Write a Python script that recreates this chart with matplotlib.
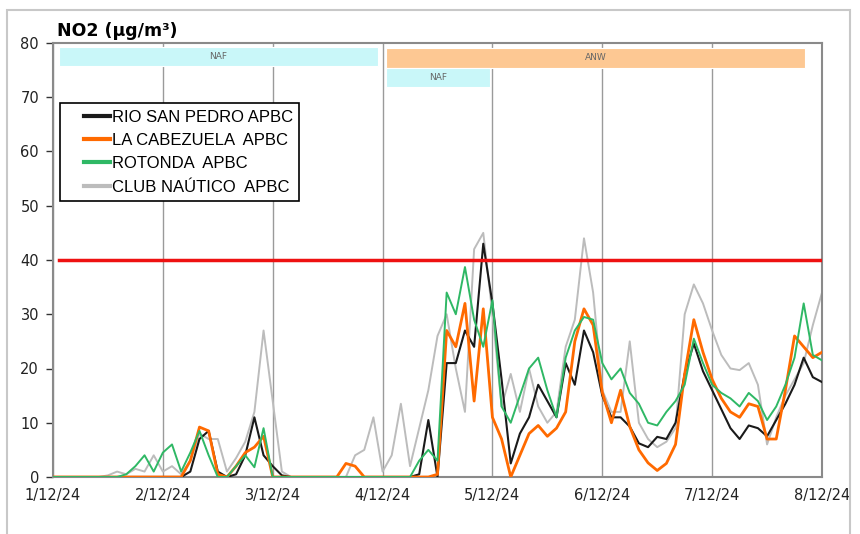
import numpy as np
import matplotlib
matplotlib.use('Agg')
import matplotlib.pyplot as plt
from matplotlib.patches import Rectangle

# valores cada 2 horas, 1/12/24 00:00 -> 8/12/24 00:00
hours = np.arange(0, 169, 2)

rio_san_pedro = [0, 0, 0, 0, 0, 0, 0, 0, 0, 0, 0, 0,
                 0, 0, 0, 1, 7, 8.5, 1, 0, 0.5, 4, 11, 4,
                 2, 0.3, 0, 0, 0, 0, 0, 0, 0, 0, 0, 0,
                 0, 0, 0, 0, 0.5, 10.5, 0, 21, 21, 27, 24, 43,
                 32, 18, 2.5, 8, 11, 17, 14, 11, 21, 17, 27, 23,
                 15, 11, 11, 9.3, 6.2, 5.5, 7.4, 7, 10, 19, 24.6, 19.5,
                 16, 12.5, 9, 7, 9.5, 9, 7.5, 10.5, 13.5, 17, 22, 18.4,
                 17.5]
la_cabezuela = [0, 0, 0, 0, 0, 0, 0, 0, 0, 0, 0, 0,
                0, 0, 0, 3, 9.2, 8.5, 0.5, 0, 2, 4.5, 5.5, 7.5,
                0, 0, 0, 0, 0, 0, 0, 0, 2.5, 2, 0, 0,
                0, 0, 0, 0, 0, 0, 0.5, 27, 24, 32, 14, 31,
                11, 7, 0, 4, 8, 9.5, 7.5, 9, 12, 25, 31, 28,
                15.6, 10, 16, 9.3, 5, 2.6, 1.2, 2.5, 6, 19, 29, 23,
                18, 14.5, 12, 11, 13.5, 13, 7, 7, 16, 26, 24, 22,
                23]
rotonda = [0, 0, 0, 0, 0, 0, 0, 0, 0.5, 2, 4, 1,
           4.5, 6, 1, 4.5, 8.5, 4, 0, 0, 2, 4, 1.8, 9,
           0, 0, 0, 0, 0, 0, 0, 0, 0, 0, 0, 0,
           0, 0, 0, 0, 3, 5, 3, 34, 30, 38.7, 29, 24,
           32.6, 13, 10, 15, 20, 22, 16, 11, 22, 27, 29.5, 29,
           21, 18, 20, 15.5, 13.5, 10, 9.5, 12, 14, 17, 25.5, 21,
           17, 15.5, 14.5, 13, 15.5, 14, 10.5, 13, 17, 22, 32, 22.5,
           21.5]
club_nautico = [0, 0, 0, 0, 0, 0, 0.3, 1, 0.5, 1.5, 1, 4,
                1, 2, 0.5, 3, 8, 7, 7, 1, 3.5, 6.5, 12, 27,
                14, 1, 0, 0, 0, 0, 0, 0, 0, 4, 5, 11,
                1, 4, 13.5, 2, 9, 16, 26, 30, 20, 12, 42, 45,
                30, 13, 19, 12, 20, 13, 10, 12, 24, 29, 44, 34,
                16, 12, 12, 25, 10, 7, 5.5, 6.5, 9, 30, 35.5, 32,
                27, 22.5, 20, 19.7, 21, 17, 6, 11, 15, 18, 21, 28,
                34]

series_names = ['RIO SAN PEDRO APBC', 'LA CABEZUELA  APBC', 'ROTONDA  APBC', 'CLUB NAÚTICO  APBC']
series_colors = ['#1a1a1a', '#ff6a00', '#2fb865', '#bcbcbc']
series_widths = [1.5, 2.0, 1.4, 1.4]

limit_value = 40
day_labels = ['1/12/24', '2/12/24', '3/12/24', '4/12/24', '5/12/24', '6/12/24', '7/12/24', '8/12/24']

# episodios (horas)
band_labels = ['NAF', 'ANW', 'NAF']
band_start = [1.3, 72.7, 72.7]
band_end = [70.9, 164.3, 95.4]
band_colors = ['#c9f7f9', '#fdc893', '#c9f7f9']

fig = plt.figure(figsize=(8.6, 5.34), dpi=100)
fig.patches.append(Rectangle((7 / 860, -0.01), 843 / 860, 1 - 10 / 534 + 0.01,
                             transform=fig.transFigure, fill=False,
                             ec='#c8c8c8', lw=1.5))
ax = fig.add_axes([53 / 860, 57 / 534, 769 / 860, 434 / 534])

for name, vals, c, lw in zip(series_names,
                             [rio_san_pedro, la_cabezuela, rotonda, club_nautico],
                             series_colors, series_widths):
    ax.plot(hours, vals, color=c, lw=lw, label=name, zorder=3)

# gris por detras de las demas
ax.lines[3].set_zorder(2.2)

ax.plot([1.4, 168], [limit_value, limit_value], color='#ee1111', lw=2.5, zorder=4)

band_rows = [(75.8, 79.3), (75.4, 79.1), (71.9, 75.4)]
for lab, s, e, col, (y0, y1) in zip(band_labels, band_start, band_end, band_colors, band_rows):
    ax.add_patch(Rectangle((s, y0), e - s, y1 - y0, fc=col, ec='white', lw=0.8, zorder=2))
    ax.text((s + e) / 2, (y0 + y1) / 2, lab, ha='center', va='center',
            fontsize=6.5, color='#666666', zorder=5)

ax.set_xlim(0, 168)
ax.set_ylim(0, 80)
ax.set_xticks(np.arange(0, 169, 24))
ax.set_xticklabels(day_labels)
ax.set_yticks(np.arange(0, 81, 10))
ax.tick_params(axis='both', labelsize=10.5, colors='#333333', length=5, width=1)
ax.tick_params(axis='y', pad=5)
ax.tick_params(axis='x', length=0, pad=8)
for lbl in ax.get_xticklabels() + ax.get_yticklabels():
    lbl.set_color('#222222')
ax.xaxis.grid(True, color='#9a9a9a', lw=1)
ax.set_axisbelow(True)
for sp in ax.spines.values():
    sp.set_color('#8a8a8a')
    sp.set_linewidth(1.5)

leg = ax.legend(loc='upper left', bbox_to_anchor=(0.009, 0.862),
                prop={'family': 'Liberation Sans', 'size': 12},
                fancybox=False, edgecolor='black', framealpha=1,
                handlelength=2.6, handletextpad=0.1, labelspacing=0.5,
                borderpad=0.4, borderaxespad=0)
leg.get_frame().set_linewidth(1.2)
for h in leg.get_lines():
    h.set_linewidth(3)
    xd = np.asarray(h.get_xdata(), dtype=float)
    yd = np.asarray(h.get_ydata(), dtype=float)
    h.set_data([xd[0] + 0.4 * (xd[-1] - xd[0]), xd[-1]], [yd[0], yd[-1]])

fig.text(57 / 860, 1 - 31 / 534, 'NO2 (µg/m³)', fontsize=12.5, fontweight='bold',
         va='center', ha='left')

fig.savefig('out.png', dpi=100)
